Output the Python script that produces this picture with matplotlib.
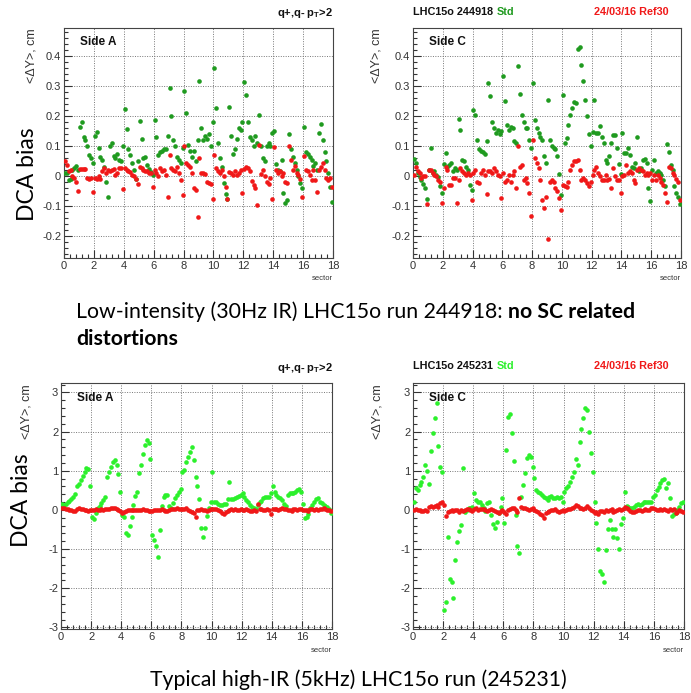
import numpy as np
import matplotlib
matplotlib.use("Agg")
import matplotlib.pyplot as plt
from matplotlib.ticker import MultipleLocator, FuncFormatter

plt.rcParams["axes.unicode_minus"] = False

ROOT_FONT = ["Liberation Sans Narrow", "Liberation Sans", "DejaVu Sans"]
SLIDE_FONT = ["Lato", "Open Sans", "DejaVu Sans"]

# 8 bins per sector, 18 sectors
N_SECTORS = 18
BINS = 8

# --- low intensity run 244918, side A
low_a_std = [
    0.012, 0.010, -0.012, -0.010, 0.022, 0.028, 0.034, 0.022,
    0.165, 0.182, 0.130, 0.120, 0.100, 0.072, 0.060, 0.045,
    0.135, 0.148, 0.095, 0.065, 0.055, 0.030, -0.020, -0.067,
    0.100, 0.112, 0.068, 0.062, 0.075, 0.055, 0.050, 0.100,
    0.225, 0.157, 0.092, 0.070, 0.045, 0.020, -0.010, 0.050,
    0.185, 0.125, 0.060, 0.065, 0.037, 0.025, 0.015, 0.005,
    0.187, 0.133, 0.072, 0.080, 0.085, 0.090, 0.092, 0.135,
    0.295, 0.200, 0.120, 0.100, 0.065, 0.055, 0.045, 0.095,
    0.285, 0.210, 0.105, 0.085, 0.065, 0.085, 0.050, 0.120,
    0.317, 0.163, 0.120, 0.135, 0.125, 0.140, 0.100, 0.180,
    0.360, 0.228, 0.110, 0.060, 0.030, -0.022, -0.058, -0.075,
    0.233, 0.135, 0.075, 0.090, 0.125, 0.160, 0.155, 0.180,
    0.315, 0.270, 0.180, 0.130, 0.120, 0.100, 0.135, 0.113,
    0.205, 0.100, 0.060, 0.050, 0.100, 0.110, 0.100, 0.145,
    0.150, 0.040, 0.022, 0.017, 0.055, -0.055, -0.087, -0.080,
    0.140, 0.090, 0.065, 0.045, 0.020, 0.000, -0.022, -0.040,
    0.165, 0.080, 0.075, 0.065, 0.055, 0.035, 0.045, 0.022,
    0.145, 0.175, 0.120, 0.080, 0.050, 0.011, -0.035, -0.085,
]
low_a_ref = [
    0.052, 0.037, 0.017, 0.020, 0.000, -0.005, -0.017, -0.047,
    0.025, 0.025, 0.025, 0.025, -0.005, -0.010, -0.005, -0.053,
    -0.005, -0.010, 0.000, -0.010, 0.017, 0.028, 0.012, 0.020,
    0.017, 0.020, 0.025, 0.005, 0.012, 0.028, 0.028, -0.043,
    0.028, 0.022, 0.017, 0.014, 0.006, 0.000, -0.010, -0.025,
    0.033, 0.028, 0.020, 0.018, 0.017, 0.012, 0.010, -0.036,
    0.020, 0.012, 0.003, 0.028, 0.017, 0.022, 0.006, -0.067,
    0.072, 0.028, 0.022, 0.017, 0.033, 0.012, -0.013, -0.061,
    0.102, 0.044, 0.038, 0.033, 0.013, -0.040, -0.046, -0.134,
    0.060, 0.011, 0.013, 0.009, -0.020, -0.022, -0.024, -0.075,
    0.072, 0.028, 0.017, 0.011, 0.020, 0.000, -0.035, -0.075,
    0.015, 0.011, 0.006, 0.017, 0.006, 0.011, 0.022, -0.055,
    0.025, 0.033, 0.028, 0.017, -0.015, -0.028, -0.040, -0.095,
    0.105, 0.009, 0.022, 0.000, -0.017, -0.024, -0.006, -0.075,
    0.098, 0.022, 0.011, 0.017, 0.002, 0.011, -0.017, -0.022,
    0.100, 0.055, 0.022, 0.035, 0.011, 0.006, -0.010, -0.067,
    0.067, 0.022, 0.017, 0.006, -0.011, 0.022, -0.011, -0.053,
    0.022, 0.030, 0.045, 0.022, -0.006, -0.011, -0.006, -0.035,
]

# --- low intensity run 244918, side C
low_c_std = [
    0.058, 0.044, 0.011, -0.003, -0.011, -0.025, -0.039, -0.075,
    0.022, 0.094, 0.011, 0.017, 0.006, -0.003, -0.033, -0.055,
    0.041, 0.078, 0.033, 0.039, 0.044, 0.017, 0.028, 0.022,
    0.192, 0.155, 0.055, 0.050, 0.033, 0.022, -0.028, -0.045,
    0.220, 0.206, 0.122, 0.090, 0.085, 0.080, 0.075, 0.117,
    0.311, 0.267, 0.183, 0.160, 0.145, 0.155, 0.140, 0.150,
    0.336, 0.253, 0.172, 0.156, 0.166, 0.160, 0.117, 0.111,
    0.367, 0.275, 0.205, 0.183, 0.160, 0.160, 0.122, 0.094,
    0.311, 0.187, 0.160, 0.144, 0.133, 0.122, 0.067, 0.044,
    0.256, 0.122, 0.100, 0.095, 0.092, 0.067, 0.009, -0.061,
    0.272, 0.111, 0.128, 0.172, 0.206, 0.228, 0.247, 0.245,
    0.425, 0.433, 0.372, 0.317, 0.256, 0.200, 0.142, 0.102,
    0.147, 0.256, 0.144, 0.144, 0.167, 0.133, 0.111, 0.056,
    0.044, 0.067, 0.111, 0.139, 0.139, 0.094, 0.042, 0.008,
    0.144, 0.078, 0.078, 0.094, 0.072, 0.033, 0.028, 0.044,
    0.133, 0.017, 0.028, 0.056, 0.059, 0.044, -0.039, -0.083,
    0.022, 0.056, 0.011, 0.017, 0.011, 0.006, -0.011, -0.033,
    0.108, 0.083, 0.039, 0.022, -0.033, -0.056, -0.067, -0.091,
]
low_c_ref = [
    0.005, 0.033, 0.017, 0.011, -0.006, 0.000, 0.003, -0.092,
    0.022, 0.020, 0.011, 0.006, 0.000, -0.011, -0.020, -0.090,
    -0.039, 0.033, 0.022, -0.028, -0.028, -0.006, -0.006, -0.087,
    -0.011, 0.028, 0.017, 0.011, 0.006, 0.011, 0.006, -0.080,
    0.011, 0.022, -0.017, -0.022, 0.011, 0.022, 0.006, -0.058,
    0.017, 0.017, 0.011, 0.028, 0.017, 0.006, 0.000, -0.072,
    0.011, -0.017, -0.011, 0.006, -0.017, 0.006, 0.017, -0.039,
    0.100, 0.033, 0.039, -0.011, -0.006, -0.022, -0.055, -0.131,
    0.120, 0.061, 0.044, 0.028, -0.011, -0.077, -0.105, -0.067,
    -0.210, -0.017, -0.011, -0.020, -0.039, -0.050, -0.072, -0.111,
    -0.028, -0.033, -0.036, -0.017, 0.022, 0.039, 0.050, 0.050,
    0.055, 0.022, -0.011, -0.006, -0.011, -0.022, -0.033, -0.020,
    0.006, 0.022, 0.033, 0.011, 0.000, -0.011, -0.011, 0.006,
    -0.011, -0.009, -0.039, 0.028, 0.000, -0.011, -0.011, -0.055,
    0.000, 0.006, 0.039, 0.011, 0.017, 0.011, -0.011, -0.022,
    0.022, 0.028, 0.022, 0.017, 0.006, 0.011, 0.006, 0.011,
    -0.011, 0.006, -0.011, 0.006, -0.006, -0.017, -0.028, -0.055,
    -0.085, 0.033, 0.028, 0.011, 0.006, -0.010, -0.017, -0.080,
]

# --- high IR run 245231, side A
high_a_std = [
    0.15, 0.13, 0.16, 0.21, 0.24, 0.28, 0.34, 0.40,
    0.61, 0.66, 0.76, 0.87, 0.98, 1.06, 1.04, 0.61,
    -0.17, -0.24, -0.08, 0.04, 0.10, 0.17, 0.26, 0.32,
    0.85, 0.98, 1.10, 1.23, 1.27, 1.15, 0.92, 0.47,
    -0.13, -0.17, -0.60, -0.64, -0.41, -0.17, 0.13, 0.36,
    0.47, 0.93, 1.15, 1.43, 1.66, 1.78, 1.70, 1.29,
    -0.64, -0.76, -0.93, -1.19, -0.51, 0.10, 0.34, 0.38,
    0.38, 0.10, 0.05, 0.17, 0.30, 0.38, 0.47, 0.53,
    0.98, 1.02, 1.23, 1.36, 1.49, 1.61, 1.27, 0.85,
    0.60, 0.27, -0.47, -0.68, -0.47, -0.15, 0.05, 0.20,
    0.98, 0.21, 0.20, 0.15, 0.13, 0.13, 0.16, 0.16,
    0.27, 0.70, 0.27, 0.27, 0.30, 0.33, 0.36, 0.38,
    0.44, 0.33, 0.25, 0.19, 0.13, 0.08, 0.04, 0.02,
    0.13, 0.20, 0.24, 0.30, 0.32, 0.33, 0.34, 0.42,
    0.60, 0.47, 0.38, 0.34, 0.30, 0.25, 0.15, 0.10,
    0.38, 0.42, 0.42, 0.44, 0.47, 0.51, 0.53, 0.47,
    0.15, -0.21, -0.17, -0.10, 0.04, 0.13, 0.20, 0.27,
    0.30, 0.21, 0.17, 0.13, 0.10, 0.08, 0.02, -0.08,
]
high_a_ref = [
    0.05, 0.04, 0.02, 0.02, 0.00, 0.01, -0.02, -0.03,
    0.03, 0.04, 0.03, 0.02, 0.00, -0.01, -0.02, 0.00,
    -0.01, 0.00, 0.02, 0.01, 0.01, 0.02, 0.00, 0.02,
    0.02, 0.03, 0.05, 0.06, 0.04, 0.02, 0.00, -0.02,
    -0.08, -0.06, -0.02, 0.00, 0.01, -0.01, 0.00, 0.01,
    0.01, 0.00, -0.01, 0.02, 0.01, 0.00, -0.02, -0.04,
    -0.02, 0.00, 0.01, -0.01, 0.00, 0.02, 0.01, -0.02,
    -0.04, 0.00, 0.02, 0.02, 0.03, 0.04, 0.02, 0.03,
    0.03, 0.02, 0.04, 0.01, -0.02, -0.06, -0.09, -0.17,
    0.00, 0.01, 0.02, 0.00, -0.01, -0.02, 0.01, 0.03,
    0.02, 0.03, 0.02, 0.00, -0.04, -0.08, -0.10, -0.06,
    -0.02, 0.00, 0.02, 0.01, 0.02, 0.01, 0.00, 0.02,
    0.00, 0.01, 0.02, 0.00, -0.02, -0.02, 0.00, -0.03,
    0.15, 0.02, 0.02, 0.01, 0.00, 0.02, 0.01, -0.10,
    0.02, 0.03, 0.02, 0.01, 0.02, 0.04, 0.03, 0.02,
    0.00, 0.01, -0.04, 0.02, 0.03, 0.01, 0.02, 0.03,
    -0.01, 0.00, 0.01, -0.02, 0.02, 0.03, 0.01, 0.02,
    0.01, 0.03, 0.02, 0.04, 0.02, 0.01, 0.00, -0.03,
]

# --- high IR run 245231, side C
high_c_std = [
    0.19, 0.55, 0.51, 0.64, 0.72, 0.85, 1.15, 1.00,
    0.66, 1.51, 1.97, 2.34, 2.74, 1.63, 1.09, 0.98,
    -2.55, -2.34, -0.68, -1.77, -1.83, -2.25, -1.29, -0.81,
    -0.55, -0.38, 1.06, -0.06, 0.00, 0.04, 0.06, 0.08,
    0.44, 0.25, 0.21, 0.19, 0.13, 0.06, -0.02, 0.17,
    0.21, -0.13, -0.36, -0.47, -0.30, -0.08, 0.08, 0.30,
    -0.34, 1.53, 2.38, 2.46, 1.97, 1.25, -0.13, -0.92,
    -1.10, 0.32, 0.64, 0.93, 1.32, 1.40, 1.36, 1.09,
    0.82, 0.51, 0.47, 0.42, 0.38, 0.33, 0.30, 0.25,
    0.34, 0.36, 0.30, 0.30, 0.32, 0.30, 0.34, 0.21,
    0.47, 0.55, 0.61, 0.72, 0.83, 0.98, 1.29, 1.15,
    1.74, 2.06, 2.34, 2.59, 2.55, 2.00, 1.46, 0.98,
    0.19, -0.34, -1.00, -1.55, -1.63, -1.83, -1.02, -0.49,
    -0.25, -0.49, -0.68, -0.49, -0.72, -1.00, -0.36, -0.21,
    0.47, 0.10, 0.08, 0.06, 0.04, 0.08, 0.13, 0.15,
    0.13, 0.15, 0.19, 0.19, 0.21, 0.20, 0.21, 0.34,
    0.38, 0.51, 0.58, 0.68, 0.76, 0.80, 0.55, 0.68,
    0.30, -0.15, -0.10, -0.08, 0.00, 0.08, 0.17, 0.21,
]
high_c_ref = [
    0.00, 0.02, 0.00, 0.01, -0.02, -0.03, 0.00, -0.03,
    0.08, 0.10, 0.08, 0.10, 0.12, 0.08, 0.18, 0.20,
    0.12, -0.15, -0.05, -0.02, 0.00, -0.02, -0.01, 0.00,
    -0.06, 0.00, -0.02, 0.00, 0.02, 0.03, 0.00, -0.02,
    0.02, 0.04, 0.00, 0.02, 0.03, 0.02, 0.00, -0.03,
    0.01, 0.03, 0.00, -0.02, -0.05, -0.08, -0.03, 0.00,
    -0.06, -0.10, 0.00, 0.02, 0.04, 0.06, 0.00, -0.05,
    0.30, 0.08, 0.06, 0.04, 0.02, 0.00, 0.03, 0.06,
    0.00, -0.03, -0.06, -0.10, -0.13, -0.20, -0.08, -0.05,
    -0.02, 0.00, 0.00, 0.02, -0.03, -0.06, -0.04, 0.00,
    -0.02, 0.00, 0.02, 0.03, 0.06, 0.08, 0.12, 0.10,
    0.04, 0.06, 0.02, 0.05, 0.10, 0.06, 0.00, -0.04,
    -0.08, -0.06, -0.10, -0.04, -0.02, -0.06, 0.00, -0.04,
    0.00, 0.02, -0.05, -0.02, 0.01, 0.03, 0.00, 0.02,
    0.08, 0.06, 0.03, -0.02, -0.06, -0.05, -0.02, 0.00,
    0.00, -0.02, 0.01, 0.02, 0.00, 0.01, 0.04, 0.06,
    0.03, 0.00, 0.01, 0.02, 0.00, 0.03, 0.01, -0.04,
    0.02, 0.01, 0.03, -0.08, -0.05, 0.00, -0.02, -0.06,
]

GREEN_DARK = "#1f9a1f"
GREEN_LIGHT = "#2cf02c"
RED = "#f01818"

sector_x = (np.arange(N_SECTORS * BINS) + 0.5) / BINS

fig = plt.figure(figsize=(6.91, 6.93), dpi=100)


def fx(px):
    return px / 691.0


def fy(py):
    return 1 - py / 693.0


def panel(left, right, top, bottom, std, ref, gcol, ylim, major, minor, side, msize):
    ax = fig.add_axes([fx(left), fy(bottom), fx(right - left), fy(top) - fy(bottom)])
    ax.scatter(sector_x, std, s=msize, color=gcol, linewidths=0, zorder=3)
    ax.scatter(sector_x, ref, s=msize, color=RED, linewidths=0, zorder=4)
    ax.set_xlim(0, 18)
    ax.set_ylim(*ylim)
    ax.xaxis.set_major_locator(MultipleLocator(2))
    ax.xaxis.set_minor_locator(MultipleLocator(0.4))
    ax.yaxis.set_major_locator(MultipleLocator(major))
    ax.yaxis.set_minor_locator(MultipleLocator(minor))
    ax.yaxis.set_major_formatter(FuncFormatter(lambda v, p: f"{round(v, 3):g}"))
    ax.tick_params(which="both", direction="in", top=False, right=False,
                   colors="#333333", labelsize=8, width=0.8)
    ax.tick_params(which="major", length=6, pad=2)
    ax.tick_params(which="minor", length=3)
    for lab in ax.get_xticklabels() + ax.get_yticklabels():
        lab.set_family(ROOT_FONT)
    ax.grid(True, which="major", color="#777777", linestyle=(0, (1, 1.5)), linewidth=0.7)
    ax.set_axisbelow(True)
    for sp in ax.spines.values():
        sp.set_color("#444444")
        sp.set_linewidth(0.8)
    ax.text(0.06, 0.965, side, transform=ax.transAxes, ha="left", va="top",
            fontsize=8.5, fontweight="bold", family=ROOT_FONT, color="#111111")
    ax.text(1.0, -0.075, "sector", transform=ax.transAxes, ha="right", va="top",
            fontsize=5.5, family=ROOT_FONT, color="#333333")
    return ax


panel(64, 333, 28, 258, low_a_std, low_a_ref, GREEN_DARK, (-0.272, 0.495), 0.1, 0.02, "Side A", 11)
panel(413, 681, 28, 258, low_c_std, low_c_ref, GREEN_DARK, (-0.272, 0.495), 0.1, 0.02, "Side C", 11)
panel(61, 332, 383, 629, high_a_std, high_a_ref, GREEN_LIGHT, (-3.04, 3.24), 1, 0.2, "Side A", 11)
panel(413, 684, 383, 629, high_c_std, high_c_ref, GREEN_LIGHT, (-3.04, 3.24), 1, 0.2, "Side C", 11)

# panel headers
for ytop in (13, 368):
    fig.text(fx(333), fy(ytop), r"q+,q- p$_\mathregular{T}$>2", ha="right", va="center",
             fontsize=8, fontweight="bold", family=ROOT_FONT, color="#111111")
for ytop, run, gcol in ((12, "LHC15o 244918", GREEN_DARK), (366, "LHC15o 245231", GREEN_LIGHT)):
    fig.text(fx(413), fy(ytop), run, ha="left", va="center", fontsize=7.8,
             fontweight="bold", family=ROOT_FONT, color="#111111")
    fig.text(fx(497), fy(ytop), "Std", ha="left", va="center", fontsize=7.8,
             fontweight="bold", family=ROOT_FONT, color=gcol)
    fig.text(fx(669), fy(ytop), "24/03/16 Ref30", ha="right", va="center", fontsize=7.8,
             fontweight="bold", family=ROOT_FONT, color=RED)

# y axis titles
for xpos, ytop in ((32, 28), (377, 28), (27, 384), (378, 384)):
    fig.text(fx(xpos), fy(ytop), "<\u0394Y>, cm", rotation=90, ha="center", va="top",
             fontsize=9, family=ROOT_FONT, color="#333333")

fig.text(fx(28), fy(174), "DCA bias", rotation=90, ha="center", va="center",
         fontsize=16.5, family=SLIDE_FONT, color="black")
fig.text(fx(22), fy(500), "DCA bias", rotation=90, ha="center", va="center",
         fontsize=16.5, family=SLIDE_FONT, color="black")

# slide captions
cap = fig.text(fx(76), fy(312), "Low-intensity (30Hz IR) LHC15o run 244918: ", ha="left",
               va="center", fontsize=15.3, family=SLIDE_FONT, color="black")
renderer = fig.canvas.get_renderer()
cap_end = cap.get_window_extent(renderer).x1 / fig.bbox.width
fig.text(cap_end, fy(312), "no SC related", ha="left", va="center",
         fontsize=15.3, fontweight="bold", family=SLIDE_FONT, color="black")
fig.text(fx(76), fy(339), "distortions", ha="left", va="center",
         fontsize=15.3, fontweight="bold", family=SLIDE_FONT, color="black")
fig.text(fx(358), fy(680), "Typical high-IR (5kHz) LHC15o run (245231)", ha="center",
         va="center", fontsize=15.3, family=SLIDE_FONT, color="black")

fig.savefig("out.png", dpi=100)
